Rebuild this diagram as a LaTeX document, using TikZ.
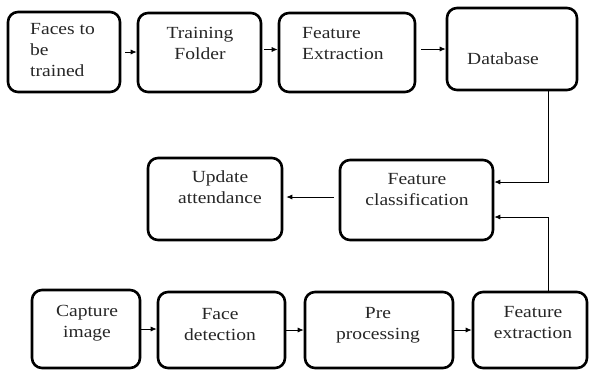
\documentclass[tikz,border=0pt]{standalone}
\usepackage{fontspec}
\setmainfont{Liberation Serif}[FakeStretch=1.15]
\usetikzlibrary{arrows.meta}

\begin{document}
\begin{tikzpicture}[x=1pt, y=-1pt,
	stage/.style={draw, line width=2.6pt, rounded corners=10pt, inner sep=0pt},
	lbl/.style={inner sep=0pt, font=\fontsize{17}{21}\selectfont, text=black!85},
	flow/.style={line width=0.8pt, -{Latex[length=6pt, width=5pt]}}]
	\useasboundingbox (0,0) rectangle (593,370);

	% top row
	\node [stage, minimum width=112pt, minimum height=80pt] (faces) at (64,52) {};
	\node [stage, minimum width=123pt, minimum height=79pt] (training) at (199.5,52.5) {};
	\node [stage, minimum width=136pt, minimum height=79pt] (featex) at (347,52.5) {};
	\node [stage, minimum width=130pt, minimum height=82pt] (database) at (512,49) {};

	% middle row
	\node [stage, minimum width=134pt, minimum height=82pt] (update) at (215,199) {};
	\node [stage, minimum width=153pt, minimum height=80pt] (classif) at (416.5,200) {};

	% bottom row
	\node [stage, minimum width=108pt, minimum height=78pt] (capture) at (86,329) {};
	\node [stage, minimum width=127pt, minimum height=76pt] (detect) at (221.5,330) {};
	\node [stage, minimum width=148pt, minimum height=76pt] (preproc) at (379,330) {};
	\node [stage, minimum width=114pt, minimum height=76pt] (extract) at (530,330) {};

	% texts (base = last line)
	\node [lbl, anchor=base west, align=left] (facestxt) at (30,76) {Faces to\\be\\trained};
	\node [lbl, anchor=base, align=center] (trainingtxt) at (200,59) {Training\\Folder};
	\node [lbl, anchor=base west, align=left] (featextxt) at (302,59) {Feature\\Extraction};
	\node [lbl, anchor=base west] (databasetxt) at (467,64) {Database};
	\node [lbl, anchor=base, align=center] (updatetxt) at (220,203) {Update\\attendance};
	\node [lbl, anchor=base, align=center] (classiftxt) at (417,205) {Feature\\classification};
	\node [lbl, anchor=base, align=center] (capturetxt) at (87,337) {Capture\\image};
	\node [lbl, anchor=base, align=center] (detecttxt) at (220,340) {Face\\detection};
	\node [lbl, anchor=base, align=center] (preproctxt) at (378,339) {Pre\\processing};
	\node [lbl, anchor=base, align=center] (extracttxt) at (533,338) {Feature\\extraction};

	\draw [flow, shorten <=4pt] (faces.east) -- (faces.east -| training.west);
	\draw [flow, shorten <=2pt] ([yshift=3pt]training.east) -- ([yshift=3pt]training.east -| featex.west);
	\draw [flow, shorten <=5pt] (featex.east |- database.west) -- (database.west);
	\draw [flow] ([xshift=36pt]database.south) |- ([yshift=18pt]classif.east);
	\draw [flow] ([xshift=18pt]extract.north) |- ([yshift=-17pt]classif.east);
	\draw [flow, shorten <=5pt, shorten >=3pt] ([yshift=3pt]classif.west) -- ([yshift=3pt]classif.west -| update.east);

	\draw [flow] (capture.east) -- (capture.east -| detect.west);
	\draw [flow] (detect.east) -- (detect.east -| preproc.west);
	\draw [flow] (preproc.east) -- (preproc.east -| extract.west);
\end{tikzpicture}
\end{document}
